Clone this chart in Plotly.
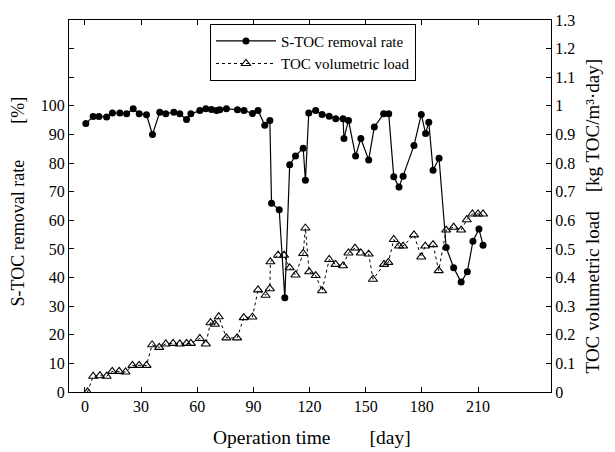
import plotly.graph_objects as go

# S-TOC removal rate [%]
rate_days = [0.5, 4.4, 7.5, 11.6, 14.7, 18.7, 22.3, 25.8, 29, 32.9, 36.1, 40, 43.2, 47.5, 50.7,
             54.3, 56.6, 61.4, 64.6, 67.6, 70.3, 72, 75.6, 81.5, 85, 89.5, 92.5, 96.1, 98.8, 99.7,
             103.8, 106.8, 109.4, 112.5, 116.6, 117.8, 119.6, 123.3, 126.7, 130.5, 134, 137.9,
             138.4, 140.8, 144.6, 147.4, 151.6, 154.6, 159.6, 162.3, 165, 167.8, 170, 175.8,
             179.7, 182, 183.7, 186, 189.2, 193, 197, 201, 204.3, 207.3, 210.5, 212.7]
rate_vals = [93.8, 96.3, 96.3, 96.1, 97.5, 97.5, 97.2, 99, 97.2, 96.9, 90, 97.8, 97.2, 97.8, 97.2,
             95.2, 97.2, 98.4, 99, 98.7, 98.4, 98.6, 99, 98.6, 98.4, 97.3, 98.4, 93.2, 94.9, 66,
             63.7, 32.9, 79.4, 82.5, 85.2, 74, 97.5, 98.4, 97, 96.4, 95.5, 95.5,
             88.6, 94.9, 82.5, 88.6, 81.1, 92.6, 97.2, 97.2, 75.2, 71.6, 75.4, 86.1,
             97, 90.3, 94.3, 77.5, 81.7, 50.5, 43.4, 38.4, 42, 52.7, 57, 51.3]

# TOC volumetric load [kg TOC/m3 day]
load_days = [1.4, 4.4, 8, 11.6, 14.6, 18.3, 21.7, 25.4, 29, 32.9, 35.9, 39.7, 43.2, 47.1, 50.7,
             54.3, 56.6, 61.4, 64.6, 67.1, 69.4, 71.5, 75.6, 81.3, 84.9, 89.5, 92.5, 96.5, 98.8,
             99.1, 103.2, 106.4, 109.4, 112.5, 116.6, 117.8, 119.8, 123.3, 126.7, 130.5, 133.9,
             137.9, 140.8, 144.3, 147.4, 151.6, 153.9, 159.8, 162.1, 165, 167.8, 170, 175.8,
             179.7, 181.8, 186, 189, 193, 197, 201, 204, 207, 210, 212.7]
load_vals = [0.0, 0.055, 0.057, 0.055, 0.072, 0.072, 0.07, 0.093, 0.093, 0.093, 0.165, 0.156, 0.168,
             0.17, 0.168, 0.17, 0.17, 0.187, 0.168, 0.242, 0.237, 0.263, 0.189, 0.189, 0.26, 0.262,
             0.357, 0.338, 0.361, 0.455, 0.478, 0.478, 0.434, 0.409, 0.484, 0.573, 0.42, 0.407,
             0.354, 0.463, 0.446, 0.441, 0.486, 0.503, 0.486, 0.482, 0.394, 0.446, 0.453, 0.533,
             0.51, 0.51, 0.549, 0.472, 0.51, 0.515, 0.424, 0.566, 0.576, 0.566, 0.602, 0.622,
             0.622, 0.622]

x_ticks = [0, 30, 60, 90, 120, 150, 180, 210]
left_ticks = [0, 10, 20, 30, 40, 50, 60, 70, 80, 90, 100, 110, 120]
left_labels = ["0", "10", "20", "30", "40", "50", "60", "70", "80", "90", "100", "", ""]
right_ticks = [0, 0.1, 0.2, 0.3, 0.4, 0.5, 0.6, 0.7, 0.8, 0.9, 1.0, 1.1, 1.2, 1.3]
right_labels = ["0", "0.1", "0.2", "0.3", "0.4", "0.5", "0.6", "0.7", "0.8", "0.9", "1",
                "1.1", "1.2", "1.3"]

FONT = "Liberation Serif, Times New Roman, serif"

fig = go.Figure()
fig.add_trace(go.Scatter(
    x=rate_days, y=rate_vals, name="S-TOC removal rate", mode="lines+markers",
    line=dict(color="black", width=1.2),
    marker=dict(symbol="circle", size=7, color="black"),
    yaxis="y"))
fig.add_trace(go.Scatter(
    x=load_days, y=load_vals, name="TOC volumetric load", mode="lines+markers",
    line=dict(color="black", width=1, dash="3px,3px"),
    marker=dict(symbol="triangle-up-open", size=8, color="black", line=dict(width=1.1)),
    yaxis="y2"))

axis_common = dict(showgrid=False, zeroline=False, showline=True, linecolor="black",
                   linewidth=1.3, ticks="inside", ticklen=5, tickcolor="black",
                   tickfont=dict(family=FONT, size=16, color="black"))

fig.update_layout(
    width=615, height=452,
    margin=dict(l=69, r=64, t=15, b=60),
    paper_bgcolor="white", plot_bgcolor="white",
    font=dict(family=FONT, color="black"),
    showlegend=True,
    legend=dict(x=0.2925, y=0.99, xanchor="left", yanchor="top",
                bordercolor="black", borderwidth=1, bgcolor="white",
                font=dict(family=FONT, size=15, color="black"),
                tracegroupgap=0, itemwidth=60),
    xaxis=dict(range=[-8.5, 249], tickvals=x_ticks, mirror="ticks", **axis_common),
    yaxis=dict(range=[0, 130], tickvals=left_ticks, ticktext=left_labels, **axis_common),
    yaxis2=dict(range=[0, 1.3], tickvals=right_ticks, ticktext=right_labels,
                overlaying="y", side="right", **axis_common),
    annotations=[
        dict(text="S-TOC removal rate\u2003\u2003[%]", xref="paper", yref="paper",
             x=-0.106, y=0.512, xanchor="center", yanchor="middle", textangle=-90,
             showarrow=False, font=dict(family=FONT, size=18, color="black")),
        dict(text="TOC volumetric load\u2003[kg TOC/m\u00b3\u00b7day]", xref="paper", yref="paper",
             x=1.085, y=0.472, xanchor="center", yanchor="middle", textangle=-90,
             showarrow=False, font=dict(family=FONT, size=19, color="black")),
        dict(text="Operation time\u2003\u2003[day]", xref="paper", yref="paper",
             x=0.504, y=-0.122, xanchor="center", yanchor="middle",
             showarrow=False, font=dict(family=FONT, size=19.5, color="black")),
    ],
)

fig.write_html("out.html")
